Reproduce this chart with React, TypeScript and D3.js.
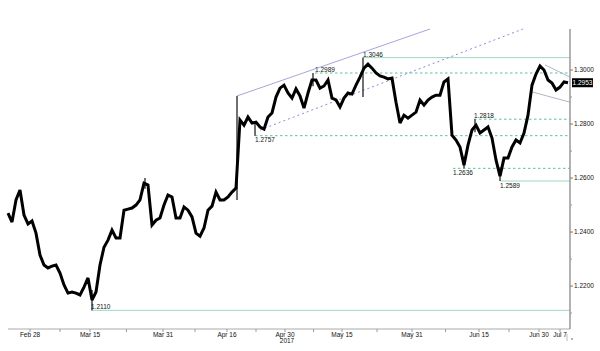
import { useEffect, useRef } from 'react';
import * as d3 from 'd3';

// GBP/USD, one point per half session, late Feb - Jul 7 2017
const closes = [
  1.2470, 1.2437, 1.2519, 1.2556, 1.2463, 1.2430, 1.2441, 1.2396, 1.2315, 1.2278,
  1.2267, 1.2274, 1.2278, 1.2248, 1.2204, 1.2174, 1.2178, 1.2174, 1.2167, 1.2196,
  1.2230, 1.2148, 1.2178, 1.2278, 1.2344, 1.2370, 1.2407, 1.2378, 1.2378, 1.2481,
  1.2485, 1.2489, 1.2500, 1.2519, 1.2581, 1.2574, 1.2426, 1.2444, 1.2452, 1.2500,
  1.2537, 1.2530, 1.2452, 1.2452, 1.2493, 1.2481, 1.2456, 1.2396, 1.2385, 1.2415,
  1.2481, 1.2496, 1.2548, 1.2519, 1.2519, 1.2530, 1.2548, 1.2563, 1.2815, 1.2796,
  1.2826, 1.2804, 1.2807, 1.2789, 1.2781, 1.2826, 1.2841, 1.2900, 1.2933, 1.2944,
  1.2915, 1.2896, 1.2930, 1.2904, 1.2859, 1.2915, 1.2963, 1.2963, 1.2933, 1.2941,
  1.2963, 1.2896, 1.2889, 1.2863, 1.2896, 1.2915, 1.2911, 1.2944, 1.2974, 1.3007,
  1.3022, 1.3007, 1.2989, 1.2978, 1.2974, 1.2967, 1.2970, 1.2881, 1.2804, 1.2833,
  1.2822, 1.2833, 1.2844, 1.2889, 1.2870, 1.2889, 1.2900, 1.2907, 1.2907, 1.2956,
  1.2967, 1.2759, 1.2741, 1.2715, 1.2648, 1.2722, 1.2778, 1.2796, 1.2767, 1.2778,
  1.2789, 1.2748, 1.2667, 1.2607, 1.2674, 1.2674, 1.2715, 1.2741, 1.2730, 1.2767,
  1.2833, 1.2944, 1.2985, 1.3015, 1.3000, 1.2963, 1.2952, 1.2926, 1.2937, 1.2956,
  1.2953,
];

// extreme wicks: [bar, high, low]
const wicks = [
  [21, 1.2185, 1.2110],
  [34.25, 1.2600, 1.2560],
  [57.25, 1.2904, 1.2519],
  [61.75, 1.2800, 1.2757],
  [76.25, 1.2989, 1.2940],
  [88.75, 1.3046, 1.2900],
  [114, 1.2680, 1.2636],
  [116.75, 1.2818, 1.2770],
  [123, 1.2640, 1.2589],
];

const levelValues = [1.3046, 1.2989, 1.2818, 1.2757, 1.2636, 1.2589, 1.2110];
const levelFrom = [88.75, 76.75, 116.5, 61.75, 111.25, 123, 20.75];
const levelDashed = [false, true, true, true, true, false, false];
const levelLabelAbove = [true, true, true, false, false, false, true];

const channelUpper = [[57.25, 1.2904], [105.5, 1.3152]];
const channelLower = [[63, 1.2778], [128.75, 1.3152]];
const wedgeUpper = [[134.25, 1.3019], [140.5, 1.2974]];
const wedgeLower = [[131, 1.2919], [140.5, 1.2881]];

const yTicks = [1.22, 1.24, 1.26, 1.28, 1.30];
const yMinorTicks = [1.21, 1.23, 1.25, 1.27, 1.29];
const xTickLabels = ['Feb 28', 'Mar 15', 'Mar 31', 'Apr 16', 'Apr 30', 'May 15', 'May 31', 'Jun 15', 'Jun 30', 'Jul 7'];
const xTickBars = [5.5, 20.5, 38.75, 54.75, 69.25, 83.5, 101, 117.75, 132.75, 138];
const yearLabel = '2017';
const yearBar = 69.25;
const lastPrice = 1.2953;

const FONT = 'Liberation Sans, Arial, sans-serif';

const App = () => {
  const svgRef = useRef<SVGSVGElement>(null);

  useEffect(() => {
    const svg = d3.select(svgRef.current);
    svg.selectAll('*').remove();

    const W = 600, H = 351;
    const left = 8, right = 568, axisX = 570, top = 29, bottom = 329;

    svg.attr('width', W).attr('height', H);

    const x = d3.scaleLinear().domain([0, closes.length - 1]).range([left, right]);
    const y = d3.scaleLinear().domain([1.2041, 1.3152]).range([bottom, top]);

    // Level lines
    levelValues.forEach((v, i) => {
      svg.append('line')
        .attr('x1', x(levelFrom[i])).attr('x2', axisX)
        .attr('y1', y(v)).attr('y2', y(v))
        .attr('stroke', levelDashed[i] ? '#5cc39b' : '#9fd9c4')
        .attr('stroke-width', 1)
        .attr('stroke-dasharray', levelDashed[i] ? '2.5,2.5' : null);
      svg.append('text')
        .attr('x', x(levelFrom[i]))
        .attr('y', levelLabelAbove[i] ? y(v) - 1 : y(v) + 6.5)
        .attr('font-family', FONT)
        .attr('font-size', 6.5)
        .attr('fill', '#111')
        .text(v.toFixed(4));
    });

    // Trend lines
    const seg = (pts, color, dash, w) => {
      svg.append('line')
        .attr('x1', x(pts[0][0])).attr('y1', y(pts[0][1]))
        .attr('x2', x(pts[1][0])).attr('y2', y(pts[1][1]))
        .attr('stroke', color)
        .attr('stroke-width', w)
        .attr('stroke-dasharray', dash);
    };
    seg(channelUpper, '#8f8fcf', null, 0.8);
    seg(channelLower, '#8a8ade', '2,3', 1);
    seg(wedgeUpper, '#a2a2b8', null, 0.8);
    seg(wedgeLower, '#a2a2b8', null, 0.8);

    // Price wicks
    svg.selectAll('.wick')
      .data(wicks)
      .enter().append('line')
      .attr('class', 'wick')
      .attr('x1', d => x(d[0])).attr('x2', d => x(d[0]))
      .attr('y1', d => y(d[1])).attr('y2', d => y(d[2]))
      .attr('stroke', '#111')
      .attr('stroke-width', 1.2);

    // Price line
    const line = d3.line<number>()
      .x((d, i) => x(i))
      .y(d => y(d));

    svg.append('path')
      .datum(closes)
      .attr('fill', 'none')
      .attr('stroke', '#000')
      .attr('stroke-width', 3)
      .attr('stroke-linejoin', 'miter')
      .attr('stroke-miterlimit', 3)
      .attr('d', line);

    // X axis
    svg.append('line')
      .attr('x1', left).attr('x2', axisX)
      .attr('y1', bottom).attr('y2', bottom)
      .attr('stroke', '#aaa');

    const minor = xTickBars.slice(0, -2).map((b, i) => (b + xTickBars[i + 1]) / 2);
    [...xTickBars, ...minor].forEach(b => {
      svg.append('line')
        .attr('x1', x(b)).attr('x2', x(b))
        .attr('y1', bottom).attr('y2', bottom + 3)
        .attr('stroke', '#999');
    });

    xTickLabels.forEach((t, i) => {
      svg.append('text')
        .attr('x', x(xTickBars[i]))
        .attr('y', bottom + 7.5)
        .attr('text-anchor', 'middle')
        .attr('font-family', FONT)
        .attr('font-size', 6.5)
        .attr('fill', '#111')
        .text(t);
    });
    svg.append('text')
      .attr('x', x(yearBar) + 2)
      .attr('y', bottom + 13.5)
      .attr('text-anchor', 'middle')
      .attr('font-family', FONT)
      .attr('font-size', 6.5)
      .attr('fill', '#111')
      .text(yearLabel);

    // Y axis
    svg.append('line')
      .attr('x1', axisX).attr('x2', axisX)
      .attr('y1', top).attr('y2', bottom)
      .attr('stroke', '#999')
      .attr('stroke-width', 1.5);

    yMinorTicks.forEach(v => {
      svg.append('line')
        .attr('x1', axisX).attr('x2', axisX + 2)
        .attr('y1', y(v)).attr('y2', y(v))
        .attr('stroke', '#999');
    });
    yTicks.forEach(v => {
      svg.append('line')
        .attr('x1', axisX).attr('x2', axisX + 3)
        .attr('y1', y(v)).attr('y2', y(v))
        .attr('stroke', '#777');
      svg.append('text')
        .attr('x', axisX + 4)
        .attr('y', y(v) + 2.2)
        .attr('font-family', FONT)
        .attr('font-size', 6.5)
        .attr('fill', '#111')
        .text(v.toFixed(4));
    });

    // Last price tag
    svg.append('rect')
      .attr('x', axisX + 2).attr('y', y(lastPrice) - 4.5)
      .attr('width', 21).attr('height', 9)
      .attr('fill', '#000');
    svg.append('text')
      .attr('x', axisX + 12.5).attr('y', y(lastPrice) + 2.2)
      .attr('text-anchor', 'middle')
      .attr('font-family', FONT)
      .attr('font-size', 6.5)
      .attr('fill', '#fff')
      .text(lastPrice.toFixed(4));

    // scroll marker
    svg.append('line')
      .attr('x1', right - 1).attr('x2', right - 1)
      .attr('y1', bottom + 5).attr('y2', bottom + 12)
      .attr('stroke', '#bbb');
    svg.append('line')
      .attr('x1', axisX + 1).attr('x2', axisX + 3)
      .attr('y1', bottom + 10).attr('y2', bottom + 10)
      .attr('stroke', '#666');
  }, []);

  return (
    <svg ref={svgRef} style={{ position: 'absolute', left: 0, top: 0, background: '#fff' }}></svg>
  );
};

export default App;
